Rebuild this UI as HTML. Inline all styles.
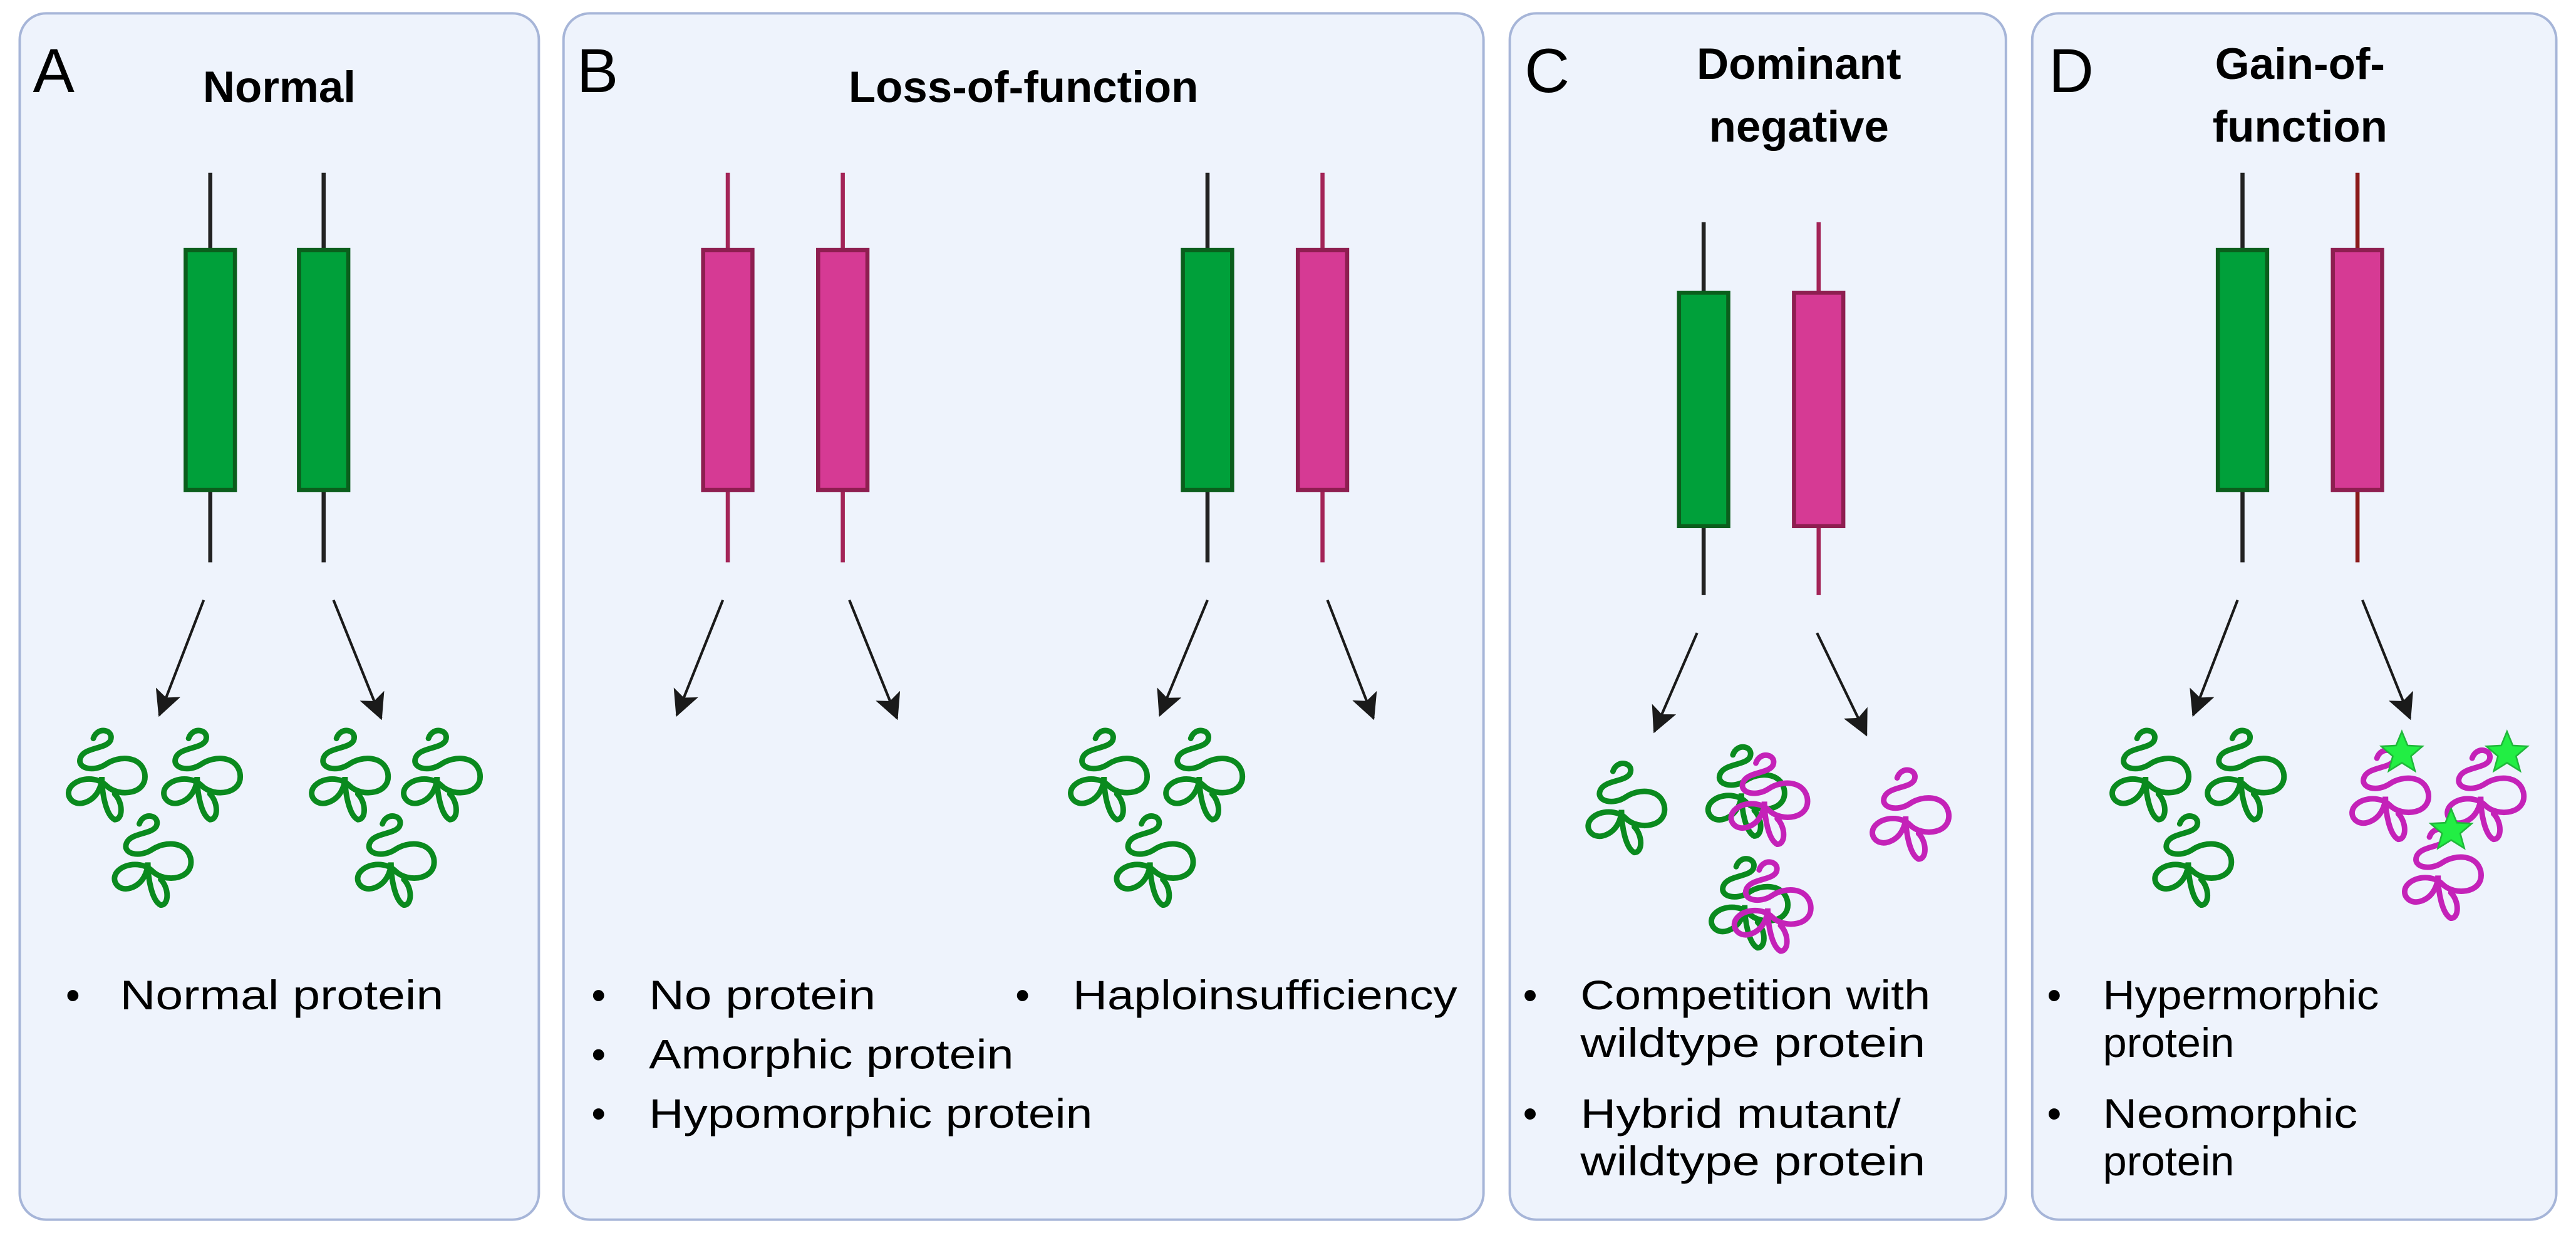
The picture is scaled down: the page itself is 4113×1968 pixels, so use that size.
<!DOCTYPE html>
<html><head><meta charset="utf-8"><style>html,body{margin:0;padding:0;background:#fff}svg{display:block}</style></head>
<body>
<svg width="4113" height="1968" viewBox="0 0 1568 750" xmlns="http://www.w3.org/2000/svg" font-family="'Liberation Sans', sans-serif">
<defs>
<marker id="ah" viewBox="0 0 14 14" refX="13" refY="7" markerWidth="16" markerHeight="16" markerUnits="userSpaceOnUse" orient="auto">
<path d="M0,0 L14,7 L0,14 L3,7 Z" fill="#1a1a1a"/>
</marker>
<g id="prot" fill="none" stroke-width="2.6" stroke-linecap="round" transform="scale(1.3)">
<path d="M-4,-16 C-2,-22 6,-20 4,-15 C2,-11 -8,-12 -10,-7 C-12,-2 -4,0 2,-4 C8,-8 18,-8 20,0 C22,10 8,12 2,6 C-2,2 -10,2 -14,6 C-18,10 -14,16 -8,14 C-2,12 0,6 0,2 C0,10 2,20 6,22 C10,22 10,14 6,10"/>
</g>
<g id="pg"><use href="#prot" stroke="#0a8a1e"/></g>
<g id="pp"><use href="#prot" stroke="#c422b8"/></g>
<polygon id="star" points="0,-13 3.5,-4.5 12.5,-4 5.5,2 8,11 0,6 -8,11 -5.5,2 -12.5,-4 -3.5,-4.5" fill="#22ee44" stroke="#1fb83a" stroke-width="1"/>
</defs>
<g fill="#eef3fc" stroke="#a6b5d8" stroke-width="1.5">
<rect x="12" y="8" width="316" height="734" rx="16"/>
<rect x="343" y="8" width="560" height="734" rx="16"/>
<rect x="919" y="8" width="302" height="734" rx="16"/>
<rect x="1237" y="8" width="319" height="734" rx="16"/>
</g>
<g fill="#000">
<text x="20" y="56" font-size="38">A</text>
<text x="351" y="56" font-size="38">B</text>
<text x="928" y="56" font-size="38">C</text>
<text x="1247" y="56" font-size="38">D</text>
<g font-weight="bold" font-size="27" text-anchor="middle">
<text x="170" y="62">Normal</text>
<text x="623" y="62">Loss-of-function</text>
<text x="1095" y="48">Dominant</text>
<text x="1095" y="86">negative</text>
<text x="1400" y="48">Gain-of-</text>
<text x="1400" y="86">function</text>
</g>
</g>
<g stroke-width="2.5">
<line x1="128" y1="105" x2="128" y2="342" stroke="#222"/>
<line x1="197" y1="105" x2="197" y2="342" stroke="#222"/>
<rect x="113" y="152" width="30" height="146" fill="#00a03a" stroke="#0b5e1c"/>
<rect x="182" y="152" width="30" height="146" fill="#00a03a" stroke="#0b5e1c"/>
<line x1="443" y1="105" x2="443" y2="342" stroke="#a32457"/>
<line x1="513" y1="105" x2="513" y2="342" stroke="#a32457"/>
<rect x="428" y="152" width="30" height="146" fill="#d63a94" stroke="#8e1e50"/>
<rect x="498" y="152" width="30" height="146" fill="#d63a94" stroke="#8e1e50"/>
<line x1="735" y1="105" x2="735" y2="342" stroke="#222"/>
<line x1="805" y1="105" x2="805" y2="342" stroke="#a32457"/>
<rect x="720" y="152" width="30" height="146" fill="#00a03a" stroke="#0b5e1c"/>
<rect x="790" y="152" width="30" height="146" fill="#d63a94" stroke="#8e1e50"/>
<line x1="1037" y1="135" x2="1037" y2="362" stroke="#222"/>
<line x1="1107" y1="135" x2="1107" y2="362" stroke="#a32457"/>
<rect x="1022" y="178" width="30" height="142" fill="#00a03a" stroke="#0b5e1c"/>
<rect x="1092" y="178" width="30" height="142" fill="#d63a94" stroke="#8e1e50"/>
<line x1="1365" y1="105" x2="1365" y2="342" stroke="#222"/>
<line x1="1435" y1="105" x2="1435" y2="342" stroke="#8b1a1a"/>
<rect x="1350" y="152" width="30" height="146" fill="#00a03a" stroke="#0b5e1c"/>
<rect x="1420" y="152" width="30" height="146" fill="#d63a94" stroke="#8e1e50"/>
</g>
<g stroke="#1a1a1a" stroke-width="1.6" marker-end="url(#ah)">
<line x1="124" y1="365" x2="97" y2="435"/>
<line x1="203" y1="365" x2="232" y2="437"/>
<line x1="440" y1="365" x2="412" y2="435"/>
<line x1="517" y1="365" x2="546" y2="437"/>
<line x1="735" y1="365" x2="706" y2="435"/>
<line x1="808" y1="365" x2="836" y2="437"/>
<line x1="1033" y1="385" x2="1007" y2="445"/>
<line x1="1106" y1="385" x2="1136" y2="447"/>
<line x1="1362" y1="365" x2="1335" y2="435"/>
<line x1="1438" y1="365" x2="1467" y2="437"/>
</g>
<use href="#pg" x="62" y="470"/><use href="#pg" x="120" y="470"/><use href="#pg" x="90" y="522"/>
<use href="#pg" x="210" y="470"/><use href="#pg" x="266" y="470"/><use href="#pg" x="238" y="522"/>
<use href="#pg" x="672" y="470"/><use href="#pg" x="730" y="470"/><use href="#pg" x="700" y="522"/>
<use href="#pg" x="987" y="490"/>
<use href="#pg" x="1060" y="480"/><use href="#pp" x="1074" y="485"/>
<use href="#pg" x="1062" y="548"/><use href="#pp" x="1076" y="550"/>
<use href="#pp" x="1160" y="494"/>
<use href="#pg" x="1306" y="470"/><use href="#pg" x="1364" y="470"/><use href="#pg" x="1332" y="522"/>
<use href="#pp" x="1452" y="482"/><use href="#pp" x="1510" y="482"/><use href="#pp" x="1484" y="530"/>
<use href="#star" x="1462" y="458"/><use href="#star" x="1526" y="458"/><use href="#star" x="1492" y="505"/>
<g font-size="25" fill="#000">
<text x="40" y="614">•</text><text x="73" y="614" textLength="197" lengthAdjust="spacingAndGlyphs">Normal protein</text>
<text x="360" y="614">•</text><text x="395" y="614" textLength="138" lengthAdjust="spacingAndGlyphs">No protein</text>
<text x="360" y="650">•</text><text x="395" y="650" textLength="222" lengthAdjust="spacingAndGlyphs">Amorphic protein</text>
<text x="360" y="686">•</text><text x="395" y="686" textLength="270" lengthAdjust="spacingAndGlyphs">Hypomorphic protein</text>
<text x="618" y="614">•</text><text x="653" y="614" textLength="234" lengthAdjust="spacingAndGlyphs">Haploinsufficiency</text>
<text x="927" y="614">•</text><text x="962" y="614" textLength="213" lengthAdjust="spacingAndGlyphs">Competition with</text>
<text x="962" y="643" textLength="210" lengthAdjust="spacingAndGlyphs">wildtype protein</text>
<text x="927" y="686">•</text><text x="962" y="686" textLength="195" lengthAdjust="spacingAndGlyphs">Hybrid mutant/</text>
<text x="962" y="715" textLength="210" lengthAdjust="spacingAndGlyphs">wildtype protein</text>
<text x="1246" y="614">•</text><text x="1280" y="614" textLength="168" lengthAdjust="spacingAndGlyphs">Hypermorphic</text>
<text x="1280" y="643" textLength="80" lengthAdjust="spacingAndGlyphs">protein</text>
<text x="1246" y="686">•</text><text x="1280" y="686" textLength="155" lengthAdjust="spacingAndGlyphs">Neomorphic</text>
<text x="1280" y="715" textLength="80" lengthAdjust="spacingAndGlyphs">protein</text>
</g>
</svg>
</body></html>
